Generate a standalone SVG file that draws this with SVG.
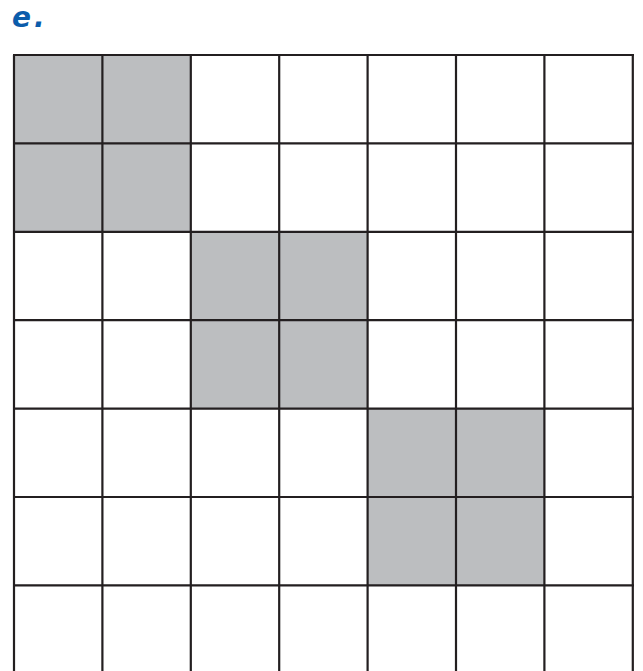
<svg xmlns="http://www.w3.org/2000/svg" width="643" height="671" viewBox="0 0 643 671">
<style>
.shade{fill:#bcbec0;stroke:none}
.grid{stroke:#231f20;stroke-width:2.2;fill:none}
.lbl{font-family:"DejaVu Sans","Liberation Sans",sans-serif;font-weight:bold;font-style:italic;font-size:28px;fill:#0b5cab;letter-spacing:3px}
</style>
<rect width="643" height="671" fill="#ffffff"/>
<text class="lbl" x="12" y="27">e.</text>
<g id="shaded">
<rect class="shade" x="14" y="55" width="176.8" height="176.8"/>
<rect class="shade" x="190.8" y="231.8" width="176.8" height="176.8"/>
<rect class="shade" x="367.6" y="408.6" width="176.8" height="176.8"/>
</g>
<g id="grid" class="grid">
<path d="M14,55V671M102.4,55V671M190.8,55V671M279.2,55V671M367.6,55V671M456,55V671M544.4,55V671M632.8,55V671"/>
<path d="M13,55H634M13,143.4H634M13,231.8H634M13,320.2H634M13,408.6H634M13,497H634M13,585.4H634"/>
</g>
</svg>
